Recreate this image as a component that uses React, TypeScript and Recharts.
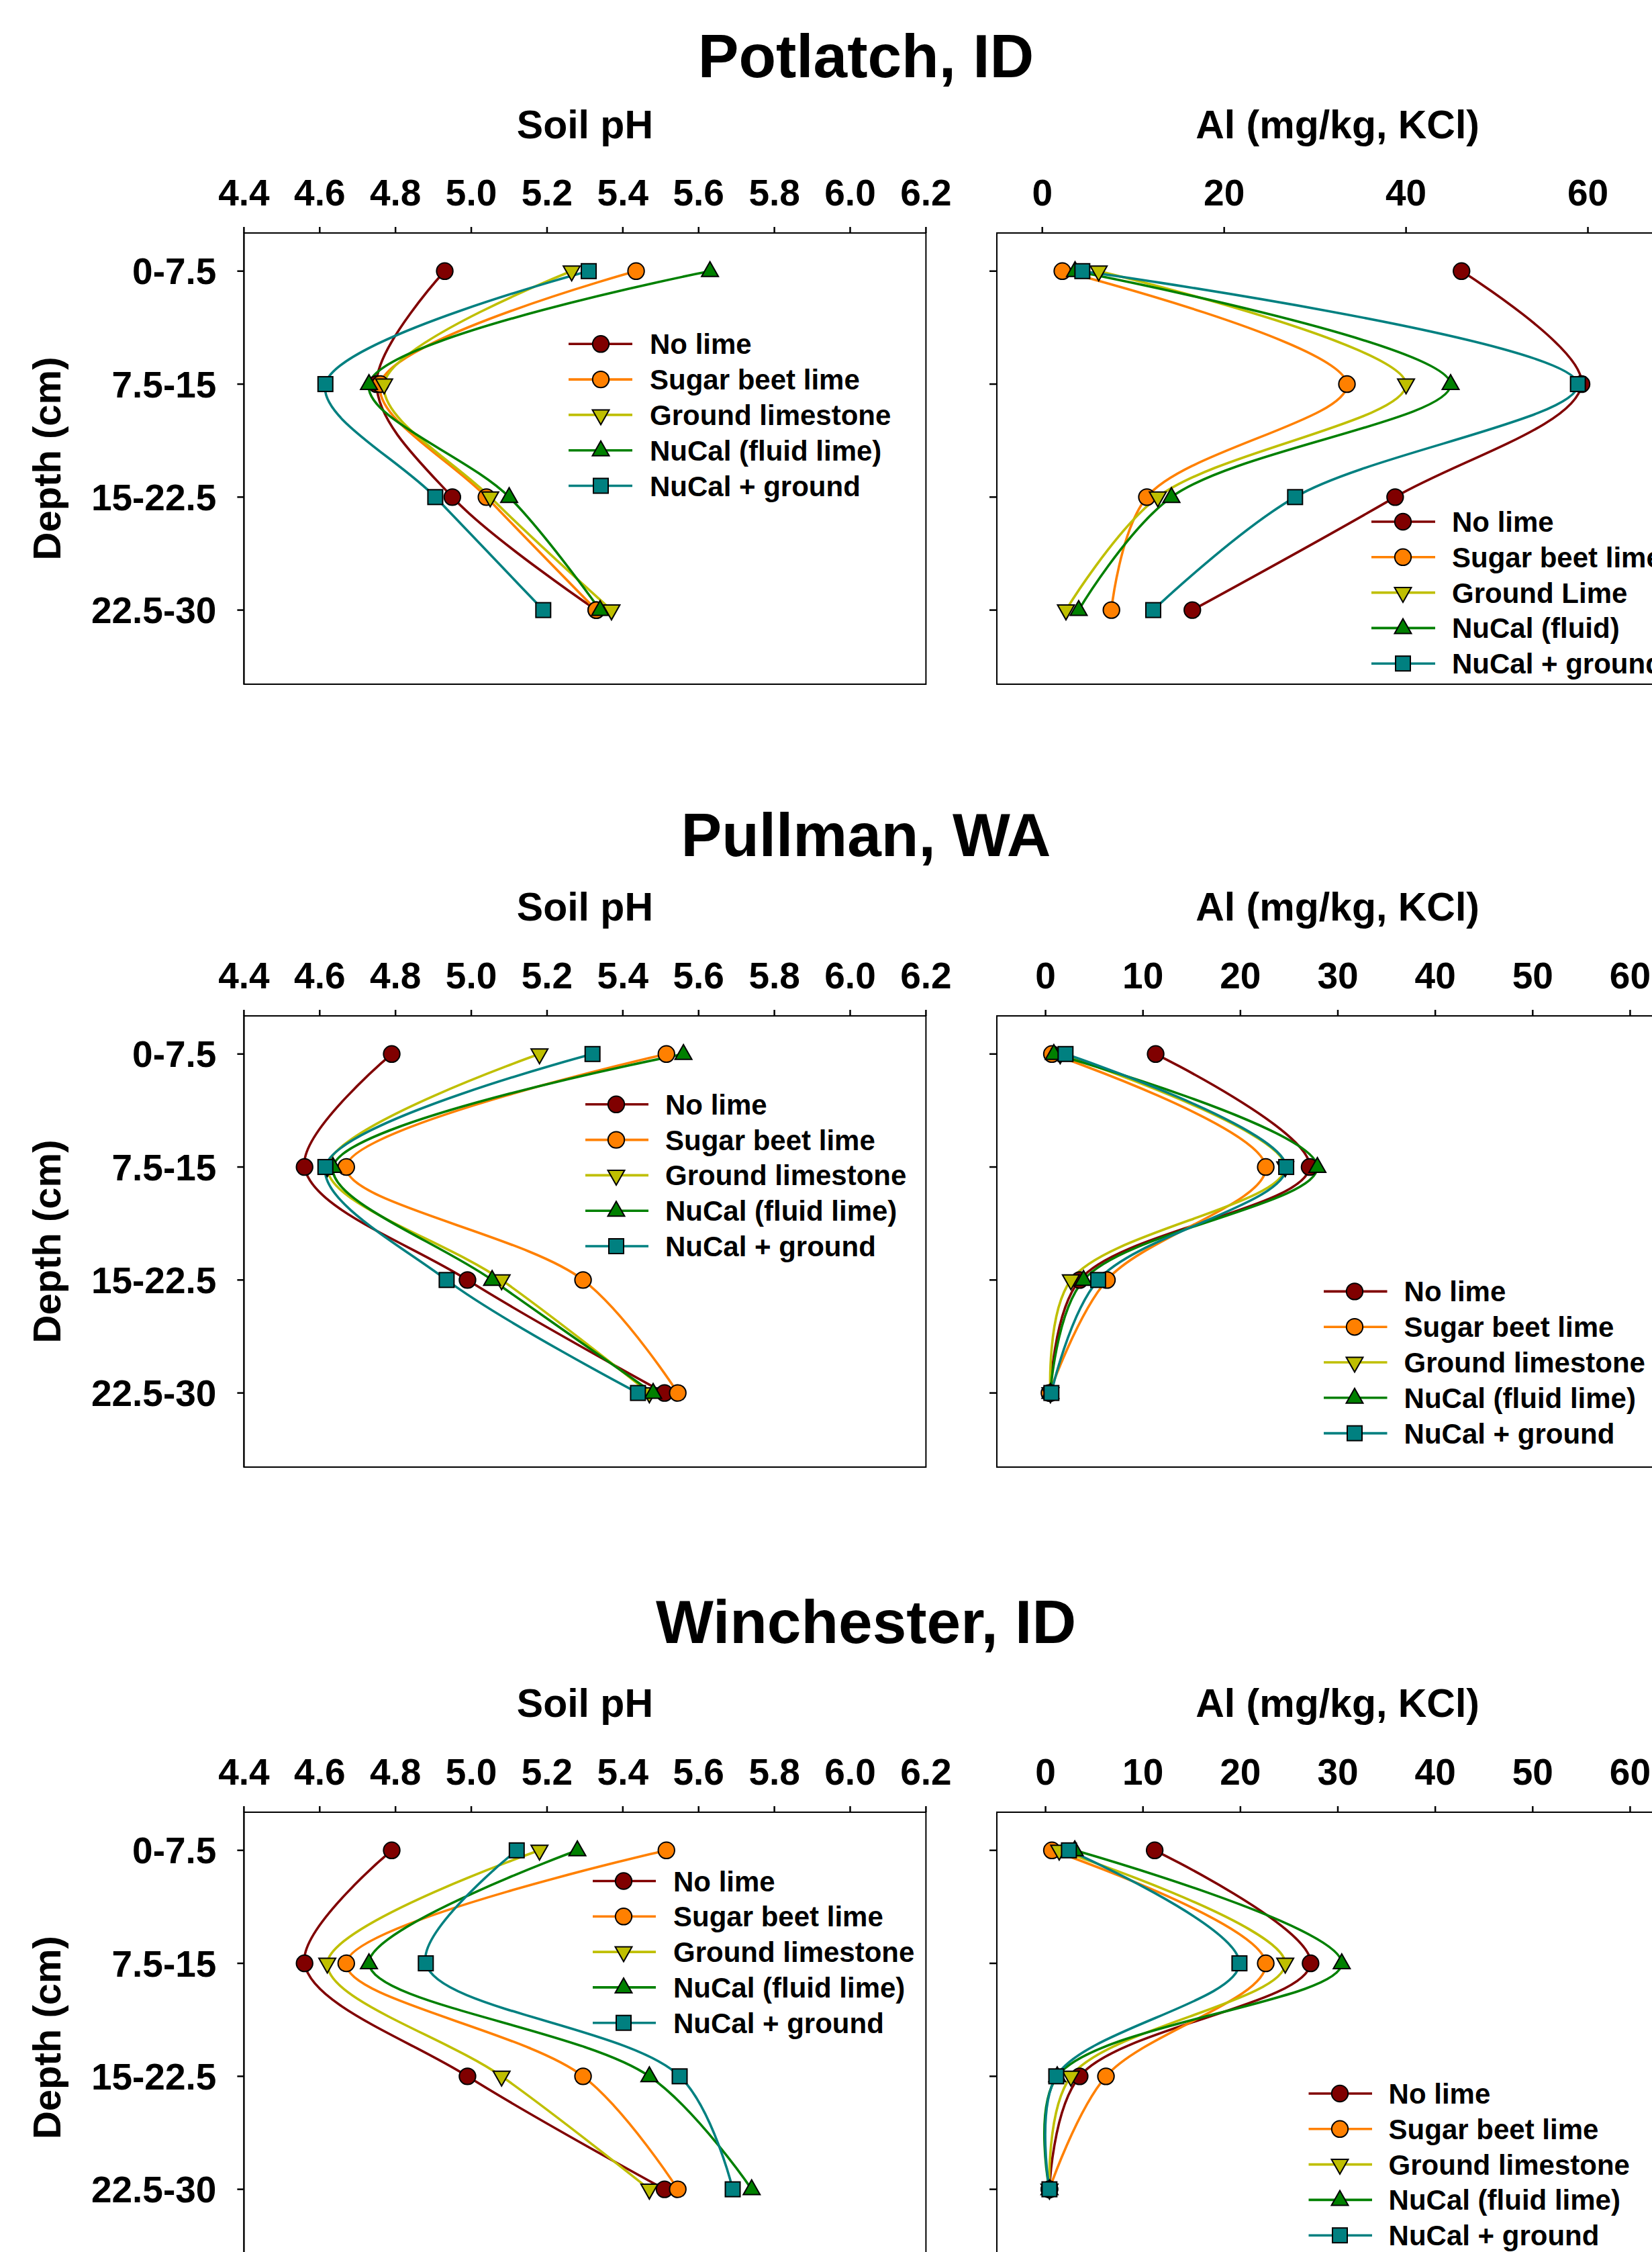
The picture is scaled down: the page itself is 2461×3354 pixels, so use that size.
import React from 'react';
import { LineChart, Line, XAxis, YAxis, ReferenceArea } from 'recharts';

// ---------- categories / ticks ----------
const depthLabels = ['0-7.5', '7.5-15', '15-22.5', '22.5-30'];
const depthIndex = [0, 1, 2, 3];
const siteTitles = ['Potlatch, ID', 'Pullman, WA', 'Winchester, ID'];
const phTicks = [4.4, 4.6, 4.8, 5.0, 5.2, 5.4, 5.6, 5.8, 6.0, 6.2];
const alTicksPotlatch = [0, 20, 40, 60];
const alTicksOther = [0, 10, 20, 30, 40, 50, 60];
const legendNames = ['No lime', 'Sugar beet lime', 'Ground limestone', 'NuCal (fluid lime)', 'NuCal + ground'];
const legendNamesPotlatchAl = ['No lime', 'Sugar beet lime', 'Ground Lime', 'NuCal (fluid)', 'NuCal + ground'];

// ---------- Potlatch, ID ----------
const potlatchPhNoLime = [4.93, 4.75, 4.95, 5.33];
const potlatchPhSugar = [5.435, 4.76, 5.04, 5.33];
const potlatchPhGround = [5.265, 4.77, 5.05, 5.37];
const potlatchPhNuCal = [5.63, 4.73, 5.1, 5.34];
const potlatchPhNuCalGround = [5.31, 4.615, 4.905, 5.19];

const potlatchAlNoLime = [46.1, 59.3, 38.8, 16.5];
const potlatchAlSugar = [2.2, 33.5, 11.5, 7.6];
const potlatchAlGround = [6.2, 40.0, 12.7, 2.6];
const potlatchAlNuCal = [3.6, 44.9, 14.2, 4.0];
const potlatchAlNuCalGround = [4.4, 58.9, 27.8, 12.2];

// ---------- Pullman, WA ----------
const pullmanPhNoLime = [4.79, 4.56, 4.99, 5.51];
const pullmanPhSugar = [5.515, 4.67, 5.295, 5.545];
const pullmanPhGround = [5.18, 4.62, 5.08, 5.47];
const pullmanPhNuCal = [5.56, 4.635, 5.055, 5.48];
const pullmanPhNuCalGround = [5.32, 4.615, 4.935, 5.44];

const pullmanAlNoLime = [11.3, 27.1, 3.5, 0.5];
const pullmanAlSugar = [0.65, 22.6, 6.3, 0.4];
const pullmanAlGround = [1.5, 24.6, 2.6, 0.5];
const pullmanAlNuCal = [0.85, 27.9, 3.9, 0.5];
const pullmanAlNuCalGround = [2.05, 24.7, 5.4, 0.6];

// ---------- Winchester, ID ----------
const winchesterPhNoLime = [4.79, 4.56, 4.99, 5.51];
const winchesterPhSugar = [5.515, 4.67, 5.295, 5.545];
const winchesterPhGround = [5.18, 4.62, 5.08, 5.47];
const winchesterPhNuCal = [5.28, 4.73, 5.47, 5.74];
const winchesterPhNuCalGround = [5.12, 4.88, 5.55, 5.69];

const winchesterAlNoLime = [11.2, 27.2, 3.5, 0.4];
const winchesterAlSugar = [0.65, 22.6, 6.2, 0.4];
const winchesterAlGround = [1.4, 24.6, 2.6, 0.4];
const winchesterAlNuCal = [3.0, 30.4, 1.2, 0.4];
const winchesterAlNuCalGround = [2.4, 19.9, 1.1, 0.4];

// ---------- styles ----------
const FONT = '"Liberation Sans", Arial, Helvetica, sans-serif';
const COLORS = ['#800000', '#ff8000', '#bfbf00', '#008000', '#008080'];
const SHAPES = ['circle', 'circle', 'down', 'up', 'square'];

const PLOT_W = 1016;
const PLOT_H = 672;
const X_AXIS_H = 100;
const RIGHT_PAD = 70;
const Y_DOMAIN: [number, number] = [-0.3375, 3.656];
const PANEL_TOPS = [347, 1513, 2698.6];
const TITLE_BASE = [114.5, 1275, 2446.5];
const AXTITLE_BASE = [206, 1371, 2557];
const PH_LEFT = 363.4;
const AL_LEFT = 1484.6;

// legend placement: [lineX1, lineX2, markerX, textX, firstRowY]
const LEGEND_POS = [
  [[847, 942, 895, 968, 512.3], [2043, 2138, 2090, 2163, 777]],
  [[872, 966, 918, 991, 1644.8], [1972, 2066.5, 2018, 2091.6, 1923.4]],
  [[883, 977, 929, 1003, 2801.5], [1949.5, 2044, 1996, 2068.6, 3118]],
];
const LEGEND_STEP = 52.8;

// ---------- centripetal Catmull-Rom curve factory ----------
function catmullRom(context: any) {
  const alpha = 0.5;
  const s: any = { ctx: context, line: NaN };
  const bez = (x: number, y: number) => {
    let x1 = s.x1, y1 = s.y1, x2 = s.x2, y2 = s.y2;
    if (s.l01_a > 1e-12) {
      const a = 2 * s.l01_2a + 3 * s.l01_a * s.l12_a + s.l12_2a;
      const n = 3 * s.l01_a * (s.l01_a + s.l12_a);
      x1 = (x1 * a - s.x0 * s.l12_2a + s.x2 * s.l01_2a) / n;
      y1 = (y1 * a - s.y0 * s.l12_2a + s.y2 * s.l01_2a) / n;
    }
    if (s.l23_a > 1e-12) {
      const b = 2 * s.l23_2a + 3 * s.l23_a * s.l12_a + s.l12_2a;
      const m = 3 * s.l23_a * (s.l23_a + s.l12_a);
      x2 = (x2 * b + s.x1 * s.l23_2a - x * s.l12_2a) / m;
      y2 = (y2 * b + s.y1 * s.l23_2a - y * s.l12_2a) / m;
    }
    s.ctx.bezierCurveTo(x1, y1, x2, y2, s.x2, s.y2);
  };
  const obj: any = {
    areaStart() { s.line = 0; },
    areaEnd() { s.line = NaN; },
    lineStart() {
      s.x0 = s.x1 = s.x2 = s.y0 = s.y1 = s.y2 = NaN;
      s.l01_a = s.l12_a = s.l23_a = s.l01_2a = s.l12_2a = s.l23_2a = 0;
      s.point = 0;
    },
    lineEnd() {
      if (s.point === 2) s.ctx.lineTo(s.x2, s.y2);
      else if (s.point === 3) obj.point(s.x2, s.y2);
      if (s.line || (s.line !== 0 && s.point === 1)) s.ctx.closePath();
      s.line = 1 - s.line;
    },
    point(xx: number, yy: number) {
      const x = +xx, y = +yy;
      if (s.point) {
        const x23 = s.x2 - x, y23 = s.y2 - y;
        s.l23_2a = Math.pow(x23 * x23 + y23 * y23, alpha);
        s.l23_a = Math.sqrt(s.l23_2a);
      }
      if (s.point === 0) {
        s.point = 1;
        if (s.line) s.ctx.lineTo(x, y); else s.ctx.moveTo(x, y);
      } else if (s.point === 1) {
        s.point = 2;
      } else {
        s.point = 3;
        bez(x, y);
      }
      s.l01_a = s.l12_a; s.l12_a = s.l23_a;
      s.l01_2a = s.l12_2a; s.l12_2a = s.l23_2a;
      s.x0 = s.x1; s.x1 = s.x2; s.x2 = x;
      s.y0 = s.y1; s.y1 = s.y2; s.y2 = y;
    },
  };
  return obj;
}

// ---------- markers ----------
function Marker({ shape, color, cx, cy }: { shape: string; color: string; cx: number; cy: number }) {
  const sw = 2;
  if (shape === 'circle') return <circle cx={cx} cy={cy} r={12.2} fill={color} stroke="#000" strokeWidth={sw} />;
  if (shape === 'square') return <rect x={cx - 11} y={cy - 11} width={22} height={22} fill={color} stroke="#000" strokeWidth={sw} />;
  if (shape === 'up')
    return <polygon points={`${cx},${cy - 14} ${cx - 12.5},${cy + 8} ${cx + 12.5},${cy + 8}`} fill={color} stroke="#000" strokeWidth={sw} strokeLinejoin="miter" />;
  return <polygon points={`${cx - 12.5},${cy - 7.5} ${cx + 12.5},${cy - 7.5} ${cx},${cy + 14.5}`} fill={color} stroke="#000" strokeWidth={sw} strokeLinejoin="miter" />;
}

function makeDot(k: number) {
  return (p: any) => {
    const { cx, cy, index } = p;
    if (cx == null || cy == null || isNaN(cx) || isNaN(cy)) return <g key={`e${k}-${index}`} />;
    return <Marker key={`m${k}-${index}`} shape={SHAPES[k]} color={COLORS[k]} cx={cx} cy={cy} />;
  };
}

// ---------- one depth-profile chart ----------
type ChartProps = {
  left: number;
  top: number;
  yAxisWidth: number;
  domain: [number, number];
  ticks: number[];
  series: number[][];
  showYLabels: boolean;
  fmt: (v: number) => string;
  yTickSize: number;
};

const tickStyle = { fontSize: 55, fontWeight: 'bold', fill: '#000', fontFamily: FONT };

function DepthChart(p: ChartProps) {
  const rows = depthIndex.map((d, i) => {
    const r: any = { d };
    p.series.forEach((s, k) => { r[`s${k}`] = s[i]; });
    return r;
  });
  const W = p.yAxisWidth + PLOT_W + RIGHT_PAD;
  const H = X_AXIS_H + PLOT_H + 12;
  return (
    <div style={{ position: 'absolute', left: p.left - p.yAxisWidth, top: p.top - X_AXIS_H }}>
      <LineChart layout="vertical" width={W} height={H} data={rows} margin={{ top: 0, right: RIGHT_PAD, bottom: 12, left: 0 }}>
        <XAxis
          type="number"
          orientation="top"
          domain={p.domain}
          ticks={p.ticks}
          interval={0}
          height={X_AXIS_H}
          tickFormatter={p.fmt}
          tick={tickStyle}
          tickSize={9}
          tickMargin={32}
          axisLine={{ stroke: '#000', strokeWidth: 2 }}
          tickLine={{ stroke: '#000', strokeWidth: 2.5 }}
        />
        <YAxis
          type="number"
          dataKey="d"
          domain={Y_DOMAIN}
          ticks={depthIndex}
          interval={0}
          width={p.yAxisWidth}
          tickFormatter={(v: number) => (p.showYLabels ? depthLabels[v] ?? '' : '')}
          tick={tickStyle}
          tickSize={p.yTickSize}
          tickMargin={31}
          axisLine={{ stroke: '#000', strokeWidth: 2 }}
          tickLine={{ stroke: '#000', strokeWidth: 2.5 }}
        />
        <ReferenceArea
          x1={p.domain[0]}
          x2={p.domain[1]}
          y1={Y_DOMAIN[0]}
          y2={Y_DOMAIN[1]}
          fill="none"
          fillOpacity={0}
          stroke="#000"
          strokeWidth={2}
          strokeOpacity={1}
          ifOverflow="visible"
        />
        {p.series.map((_, k) => (
          <Line
            key={k}
            dataKey={`s${k}`}
            type={catmullRom as any}
            stroke={COLORS[k]}
            strokeWidth={3.6}
            dot={makeDot(k)}
            activeDot={false}
            isAnimationActive={false}
          />
        ))}
      </LineChart>
    </div>
  );
}

function LegendBlock({ pos, names }: { pos: number[]; names: string[] }) {
  const [lx1, lx2, mx, tx, y0] = pos;
  return (
    <g>
      {names.map((n, k) => {
        const y = y0 + k * LEGEND_STEP;
        return (
          <g key={k}>
            <line x1={lx1} x2={lx2} y1={y} y2={y} stroke={COLORS[k]} strokeWidth={3.6} />
            <Marker shape={SHAPES[k]} color={COLORS[k]} cx={mx} cy={y} />
            <text x={tx} y={y + 15} fontSize={42} fontWeight="bold" fontFamily={FONT} fill="#000">
              {n}
            </text>
          </g>
        );
      })}
    </g>
  );
}

const phFmt = (v: number) => v.toFixed(1);
const alFmt = (v: number) => String(v);

export default function App() {
  const phSeries = [
    [potlatchPhNoLime, potlatchPhSugar, potlatchPhGround, potlatchPhNuCal, potlatchPhNuCalGround],
    [pullmanPhNoLime, pullmanPhSugar, pullmanPhGround, pullmanPhNuCal, pullmanPhNuCalGround],
    [winchesterPhNoLime, winchesterPhSugar, winchesterPhGround, winchesterPhNuCal, winchesterPhNuCalGround],
  ];
  const alSeries = [
    [potlatchAlNoLime, potlatchAlSugar, potlatchAlGround, potlatchAlNuCal, potlatchAlNuCalGround],
    [pullmanAlNoLime, pullmanAlSugar, pullmanAlGround, pullmanAlNuCal, pullmanAlNuCalGround],
    [winchesterAlNoLime, winchesterAlSugar, winchesterAlGround, winchesterAlNuCal, winchesterAlNuCalGround],
  ];
  const alDomains: [number, number][] = [[-5, 70], [-5, 65], [-5, 65]];
  const alTicks = [alTicksPotlatch, alTicksOther, alTicksOther];

  return (
    <div
      style={{
        position: 'fixed',
        left: 0,
        top: 0,
        width: 2461,
        height: 3354,
        overflow: 'hidden',
        background: '#fff',
        fontFamily: FONT,
      }}
    >
      {[0, 1, 2].map((i) => (
        <React.Fragment key={i}>
          <DepthChart
            left={AL_LEFT}
            top={PANEL_TOPS[i]}
            yAxisWidth={100}
            domain={alDomains[i]}
            ticks={alTicks[i]}
            series={alSeries[i]}
            showYLabels={false}
            fmt={alFmt}
            yTickSize={11}
          />
          <DepthChart
            left={PH_LEFT}
            top={PANEL_TOPS[i]}
            yAxisWidth={PH_LEFT}
            domain={[4.4, 6.2]}
            ticks={phTicks}
            series={phSeries[i]}
            showYLabels={true}
            fmt={phFmt}
            yTickSize={10}
          />
        </React.Fragment>
      ))}
      <svg width={2461} height={3354} style={{ position: 'absolute', left: 0, top: 0, pointerEvents: 'none' }}>
        {siteTitles.map((t, i) => (
          <g key={i}>
            <text x={1290} y={TITLE_BASE[i]} textAnchor="middle" fontSize={91} fontWeight="bold" fontFamily={FONT} fill="#000">
              {t}
            </text>
            <text x={PH_LEFT + PLOT_W / 2} y={AXTITLE_BASE[i]} textAnchor="middle" fontSize={59} fontWeight="bold" fontFamily={FONT} fill="#000">
              Soil pH
            </text>
            <text x={AL_LEFT + PLOT_W / 2} y={AXTITLE_BASE[i]} textAnchor="middle" fontSize={59} fontWeight="bold" fontFamily={FONT} fill="#000">
              Al (mg/kg, KCl)
            </text>
            <text
              x={90}
              y={PANEL_TOPS[i] + PLOT_H / 2}
              transform={`rotate(-90, 90, ${PANEL_TOPS[i] + PLOT_H / 2})`}
              textAnchor="middle"
              fontSize={58}
              fontWeight="bold"
              fontFamily={FONT}
              fill="#000"
            >
              Depth (cm)
            </text>
            <LegendBlock pos={LEGEND_POS[i][0]} names={legendNames} />
            <LegendBlock pos={LEGEND_POS[i][1]} names={i === 0 ? legendNamesPotlatchAl : legendNames} />
          </g>
        ))}
      </svg>
    </div>
  );
}
